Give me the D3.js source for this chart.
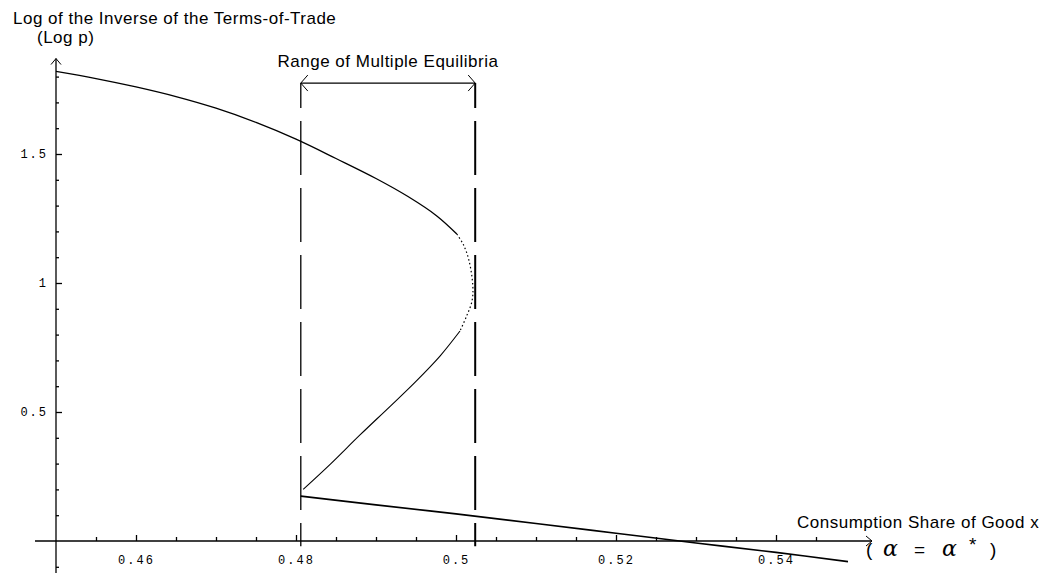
<!DOCTYPE html>
<html>
<head>
<meta charset="utf-8">
<script src="https://cdn.jsdelivr.net/npm/d3@7"></script>
<style>
body{margin:0;background:#fff;}
.lbl{font-family:"Liberation Sans",Arial,sans-serif;font-size:17px;letter-spacing:0.5px;fill:#000;}
.tick text{font-family:"Liberation Mono","Courier New",monospace;font-size:12px;letter-spacing:2px;fill:#000;}
</style>
</head>
<body>
<svg id="chart" width="1041" height="573"></svg>
<script>
// curve: upper branch, sparse part at the turning point, lower branch
var upperBranch = [[0.45,1.82],[0.455,1.7925],[0.46,1.76],[0.465,1.7225],[0.47,1.6775],[0.475,1.6225],[0.48,1.5575],
  [0.485,1.4825],[0.49,1.405],[0.494,1.335],[0.4976,1.26],[0.5001,1.19]];
var noseBranch = [[0.5001,1.19],[0.5009,1.15],[0.5016,1.09],[0.5021,0.99],[0.502,0.93],[0.5013,0.87],[0.5005,0.814]];
var lowerBranch = [[0.5005,0.814],[0.498,0.717],[0.4949,0.616],[0.4918,0.523],[0.488,0.411],[0.4843,0.298],[0.4809,0.20]];
// low equilibrium line
var lowLine = [[0.4806,0.174],[0.49,0.14],[0.50,0.105],[0.51,0.068],[0.52,0.03],[0.53,-0.008],[0.54,-0.044],[0.549,-0.08]];
// range of multiple equilibria
var rangeBounds = [0.4806,0.5024];

var xTickValues = [0.46,0.48,0.5,0.52,0.54];
var xTickLabels = ["0.46","0.48","0.5","0.52","0.54"];
var xMinorTicks = [0.455,0.465,0.47,0.475,0.485,0.49,0.495,0.505,0.51,0.515,0.525,0.53,0.535,0.545];
var yTickValues = [0.5,1,1.5];
var yTickLabels = ["0.5","1","1.5"];
var yMinorTicks = [-0.1,0.1,0.2,0.3,0.4,0.6,0.7,0.8,0.9,1.1,1.2,1.3,1.4,1.6,1.7,1.8];

var svg = d3.select("#chart");

var x = d3.scaleLinear().domain([0.45,0.55]).range([56,856]);
var y = d3.scaleLinear().domain([0,2]).range([541,25]);

var line = d3.line().x(function(d){return x(d[0]);}).y(function(d){return y(d[1]);})
  .curve(d3.curveCatmullRom);

// axes lines with open arrows
var x0 = x(0.45), y0 = y(0);
var xEnd = x(0.552), yTop = y(1.87);
svg.append("path").attr("d","M35,"+y0+"H"+xEnd).attr("stroke","#000").attr("stroke-width",1.3).attr("fill","none");
svg.append("path").attr("d","M"+(xEnd-6)+","+(y0-5)+"L"+xEnd+","+y0+"L"+(xEnd-6)+","+(y0+5))
  .attr("stroke","#000").attr("stroke-width",1).attr("fill","none");
svg.append("path").attr("d","M"+x0+",573V"+yTop).attr("stroke","#000").attr("stroke-width",1.3).attr("fill","none");
svg.append("path").attr("d","M"+(x0-5)+","+(yTop+6)+"L"+x0+","+yTop+"L"+(x0+5)+","+(yTop+6))
  .attr("stroke","#000").attr("stroke-width",1).attr("fill","none");

// x ticks
var gx = svg.append("g").attr("transform","translate(0,"+y0+")")
  .call(d3.axisBottom(x).tickValues(xTickValues).tickSize(-6).tickPadding(14)
    .tickFormat(function(d,i){return xTickLabels[i];}));
var gxm = svg.append("g").attr("transform","translate(0,"+y0+")")
  .call(d3.axisBottom(x).tickValues(xMinorTicks).tickSize(-4).tickFormat(""));
// y ticks
var gy = svg.append("g").attr("transform","translate("+x0+",0)")
  .call(d3.axisLeft(y).tickValues(yTickValues).tickSize(-6).tickPadding(8)
    .tickFormat(function(d,i){return yTickLabels[i];}));
var gym = svg.append("g").attr("transform","translate("+x0+",0)")
  .call(d3.axisLeft(y).tickValues(yMinorTicks).tickSize(-3).tickFormat(""));
[gx,gxm,gy,gym].forEach(function(g){
  g.select(".domain").remove();
  g.selectAll(".tick line").attr("stroke","#000").attr("stroke-width",1.3);
});

// dashed range lines
var bracketY = y(1.775);
rangeBounds.forEach(function(b,i){
  svg.append("line")
    .attr("x1",x(b)).attr("x2",x(b))
    .attr("y1",bracketY).attr("y2",y(-0.02))
    .attr("stroke","#000").attr("stroke-width",i==0?1.3:2)
    .attr("stroke-dasharray","54,13").attr("stroke-dashoffset",29);
});

// bracket with arrows
var bx1 = x(rangeBounds[0]), bx2 = x(rangeBounds[1]);
svg.append("path").attr("d","M"+bx1+","+bracketY+"H"+bx2).attr("stroke","#000").attr("stroke-width",1.3);
svg.append("path").attr("d","M"+(bx1+7)+","+(bracketY-8)+"L"+bx1+","+bracketY+"L"+(bx1+7)+","+(bracketY+8))
  .attr("stroke","#000").attr("fill","none");
svg.append("path").attr("d","M"+(bx2-7)+","+(bracketY-8)+"L"+bx2+","+bracketY+"L"+(bx2-7)+","+(bracketY+8))
  .attr("stroke","#000").attr("fill","none");
svg.append("text").attr("class","lbl").attr("x",(bx1+bx2)/2).attr("y",bracketY-16)
  .attr("text-anchor","middle").text("Range of Multiple Equilibria");

// curves
svg.append("path").datum(upperBranch).attr("d",line).attr("fill","none").attr("stroke","#000").attr("stroke-width",1.3);
svg.append("path").datum(noseBranch).attr("d",line).attr("fill","none").attr("stroke","#000").attr("stroke-width",1.2)
  .attr("stroke-dasharray","1.5,2.5");
svg.append("path").datum(lowerBranch).attr("d",line).attr("fill","none").attr("stroke","#000").attr("stroke-width",1.1);
svg.append("path").datum(lowLine).attr("d",line).attr("fill","none").attr("stroke","#000").attr("stroke-width",1.6);

// axis titles
svg.append("text").attr("class","lbl").attr("x",13).attr("y",24).text("Log of the Inverse of the Terms-of-Trade");
svg.append("text").attr("class","lbl").attr("x",37).attr("y",43).text("(Log p)");
svg.append("text").attr("class","lbl").attr("x",797).attr("y",528).text("Consumption Share of Good x");
var al = svg.append("text").attr("class","lbl").attr("y",556).style("font-size","19px");
al.append("tspan").attr("x",866).text("(");
al.append("tspan").attr("x",883).attr("font-family","DejaVu Serif,serif").attr("font-style","italic")
  .style("font-size","22px").text("\u03b1");
al.append("tspan").attr("x",914).text("=");
al.append("tspan").attr("x",942).attr("font-family","DejaVu Serif,serif").attr("font-style","italic")
  .style("font-size","22px").text("\u03b1");
al.append("tspan").attr("x",969).attr("dy",-5).text("*");
al.append("tspan").attr("x",990).attr("dy",5).text(")");
</script>
</body>
</html>
